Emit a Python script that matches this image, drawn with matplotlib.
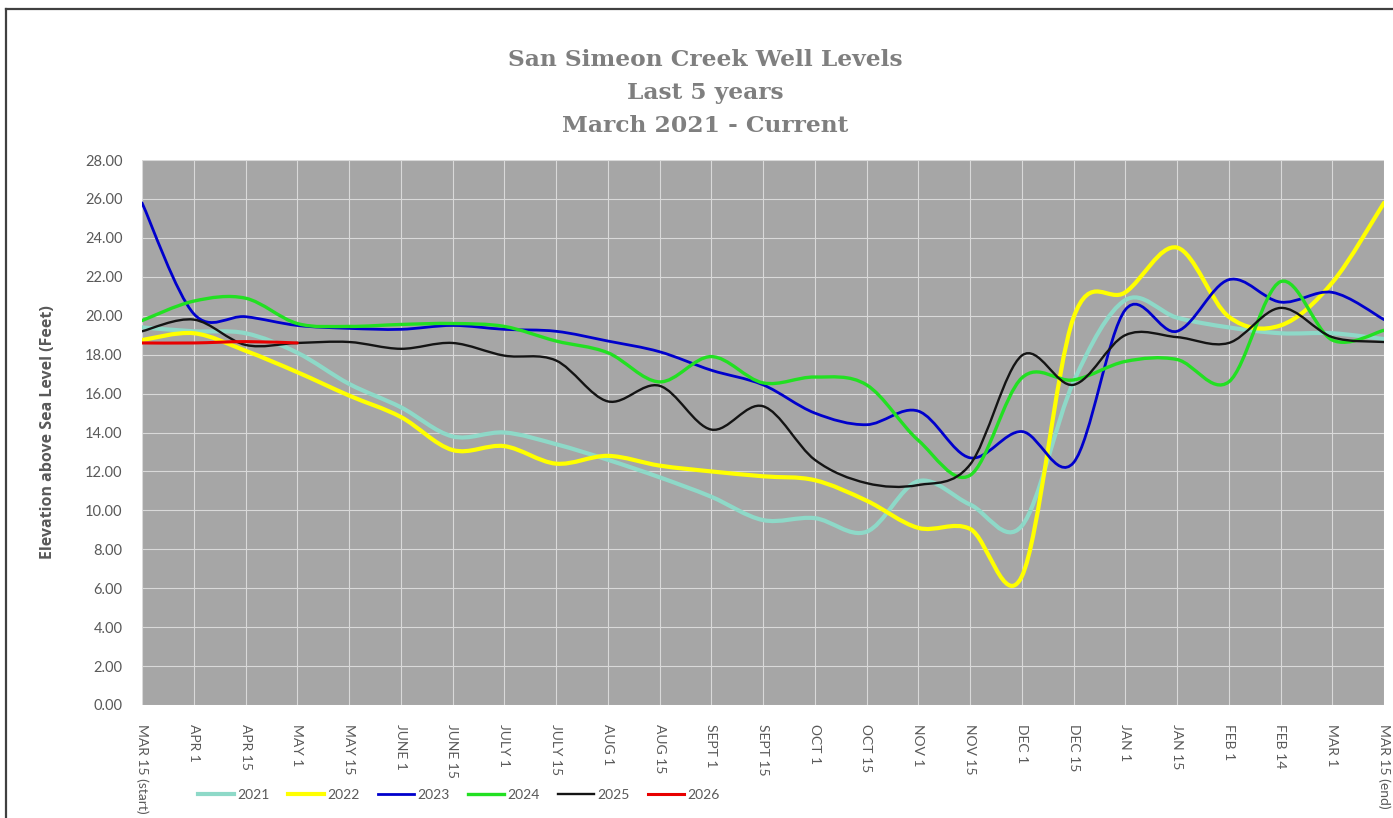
import matplotlib
matplotlib.use("Agg")
import matplotlib.pyplot as plt
from matplotlib.path import Path
from matplotlib.patches import PathPatch
from matplotlib.lines import Line2D
import numpy as np

categories = ["MAR 15 (start)", "APR 1", "APR 15", "MAY 1", "MAY 15", "JUNE 1", "JUNE 15",
              "JULY 1", "JULY 15", "AUG 1", "AUG 15", "SEPT 1", "SEPT 15", "OCT 1", "OCT 15",
              "NOV 1", "NOV 15", "DEC 1", "DEC 15", "JAN 1", "JAN 15", "FEB 1", "FEB 14",
              "MAR 1", "MAR 15 (end)"]

y2021 = [19.4, 19.2, 19.1, 18.1, 16.5, 15.3, 13.8, 14.0, 13.4, 12.6, 11.7, 10.7, 9.5,
         9.6, 8.9, 11.5, 10.3, 9.2, 16.6, 20.8, 19.9, 19.4, 19.1, 19.1, 18.8]
y2022 = [18.75, 19.1, 18.2, 17.1, 15.9, 14.8, 13.1, 13.3, 12.4, 12.8, 12.3, 12.0, 11.75,
         11.55, 10.5, 9.1, 9.05, 6.6, 19.9, 21.2, 23.5, 19.95, 19.5, 21.7, 25.8]
y2023 = [25.8, 20.1, 19.95, 19.5, 19.35, 19.3, 19.5, 19.3, 19.2, 18.7, 18.15, 17.2, 16.45,
         15.0, 14.4, 15.1, 12.7, 14.05, 12.45, 20.3, 19.2, 21.85, 20.7, 21.2, 19.8]
y2024 = [19.75, 20.75, 20.9, 19.6, 19.45, 19.55, 19.6, 19.45, 18.7, 18.1, 16.6, 17.9, 16.55,
         16.85, 16.45, 13.6, 11.8, 16.8, 16.7, 17.65, 17.75, 16.6, 21.75, 18.75, 19.25]
y2025 = [19.2, 19.8, 18.5, 18.6, 18.65, 18.3, 18.6, 17.95, 17.7, 15.6, 16.4, 14.15, 15.35,
         12.6, 11.4, 11.3, 12.35, 17.95, 16.45, 19.0, 18.9, 18.6, 20.4, 18.9, 18.65]
y2026 = [18.6, 18.6, 18.67, 18.6]

series_names = ["2021", "2022", "2023", "2024", "2025", "2026"]
series_vals = [y2021, y2022, y2023, y2024, y2025, y2026]
colors = ["#8ED9C8", "#FFFF00", "#0000CC", "#22E022", "#141414", "#E80000"]
widths = [3.0, 3.0, 2.0, 2.4, 1.7, 2.2]

y_ticks = np.arange(0, 28.01, 2)

fig = plt.figure(figsize=(13.93, 8.18), dpi=100)
fig.patch.set_facecolor("white")
ax = fig.add_axes([142 / 1393, 1 - 705 / 818, (1384 - 142) / 1393, (705 - 160) / 818])
ax.set_facecolor("#A6A6A6")

n = len(categories)
ax.set_xlim(0, n - 1)
ax.set_ylim(0, 28)
ax.set_yticks(y_ticks)
ax.set_yticklabels([f"{v:.2f}" for v in y_ticks], fontsize=10.5, color="#595959", family="Lato")
ax.set_xticks(range(n))
ax.set_xticklabels(categories, rotation=270, fontsize=10, color="#595959", family="Lato",
                   va="top", ha="center")
ax.tick_params(length=0)
ax.tick_params(axis="y", pad=14)
ax.tick_params(axis="x", pad=13.5)
ax.grid(True, color="#D9D9D9", lw=0.8)
ax.set_axisbelow(True)
for s in ax.spines.values():
    s.set_visible(False)


def smooth_path(xs, ys):
    pts = np.column_stack([xs, ys]).astype(float)
    m = len(pts)
    verts = [pts[0]]
    codes = [Path.MOVETO]
    for i in range(m - 1):
        p0 = pts[i - 1] if i > 0 else pts[i]
        p1 = pts[i]
        p2 = pts[i + 1]
        p3 = pts[i + 2] if i + 2 < m else pts[i + 1]
        c1 = p1 + (p2 - p0) / 6.0
        c2 = p2 - (p3 - p1) / 6.0
        verts += [c1, c2, p2]
        codes += [Path.CURVE4] * 3
    return Path(verts, codes)


handles = []
for name, vals, c, w in zip(series_names, series_vals, colors, widths):
    xs = np.arange(len(vals))
    patch = PathPatch(smooth_path(xs, vals), facecolor="none", edgecolor=c, lw=w,
                      capstyle="round", joinstyle="round", zorder=3)
    ax.add_patch(patch)
    handles.append(Line2D([], [], color=c, lw=w, label=name))

fig.text(48 / 1393, 1 - 432 / 818, "Elevation above Sea Level (Feet)", rotation=90,
         ha="center", va="center", fontsize=11.5, fontweight="bold",
         color="#595959", family="Open Sans")

title_lines = ["San Simeon Creek Well Levels", "Last 5 years", "March 2021 - Current"]
for i, line in enumerate(title_lines):
    fig.text(0.506, 1 - (60 + 33 * i) / 818, line, ha="center", va="center",
             fontsize=16.8, fontweight="bold", color="#7F7F7F", family="DejaVu Serif")

leg = fig.legend(handles=handles, loc="center left", bbox_to_anchor=(198 / 1393, 1 - 795 / 818),
                 ncol=6, frameon=False, handlelength=2.6, handletextpad=0.25,
                 columnspacing=1.3, prop={"family": "Lato", "size": 10},
                 borderaxespad=0, borderpad=0)
for t in leg.get_texts():
    t.set_color("#595959")

# outer chart border (top and left visible)
fig.add_artist(Line2D([6 / 1393, 1], [1 - 9 / 818, 1 - 9 / 818], transform=fig.transFigure,
                      color="#404040", lw=1.6))
fig.add_artist(Line2D([6 / 1393, 6 / 1393], [0, 1 - 9 / 818], transform=fig.transFigure,
                      color="#404040", lw=1.6))

fig.savefig("out.png", dpi=100, facecolor="white")
